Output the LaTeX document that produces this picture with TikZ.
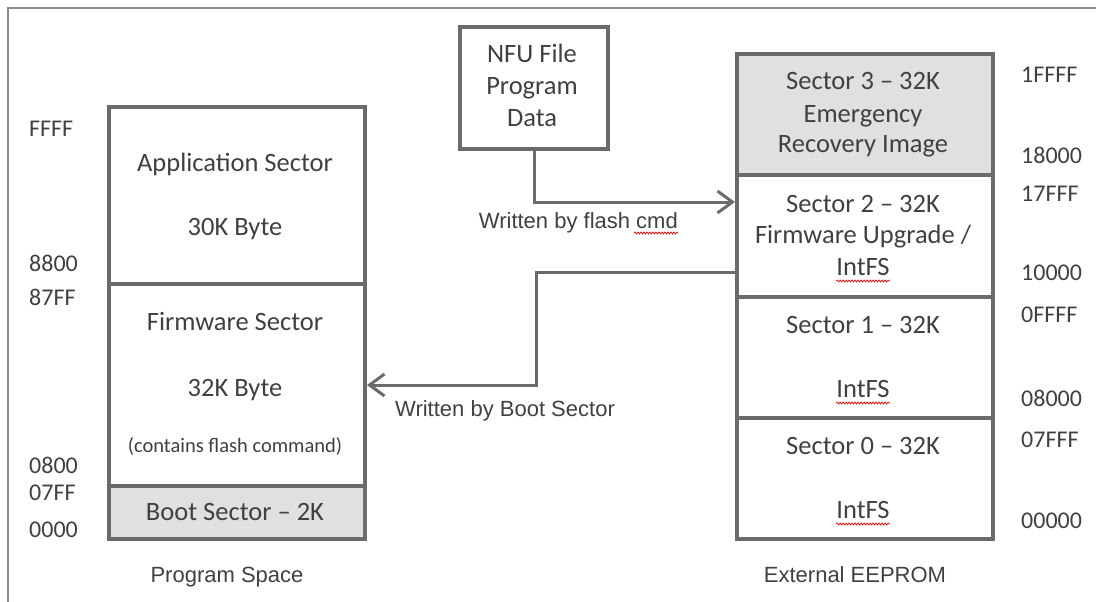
\documentclass[tikz,border=0pt]{standalone}
\usepackage{fontspec}
\newfontfamily\calfont{Carlito}
\newfontfamily\arifont{Liberation Sans}
\usetikzlibrary{arrows.meta,calc,decorations.pathmorphing}
\definecolor{linegray}{HTML}{6B6B6B}
\definecolor{fillgray}{HTML}{E0E0E0}
\definecolor{txtgray}{HTML}{404040}
\definecolor{framegray}{HTML}{8A8A8A}
\tikzset{
  sector/.style={draw=linegray, line width=4pt, inner sep=0pt, anchor=north west},
  btxt/.style={font=\calfont\fontsize{26.5}{30}\selectfont, text=txtgray, inner sep=0pt, anchor=base},
  stxt/.style={font=\calfont\fontsize{20.5}{23}\selectfont, text=txtgray, inner sep=0pt, anchor=base},
  addr/.style={font=\calfont\fontsize{24}{28}\selectfont, text=txtgray, inner sep=0pt, anchor=base west},
  lbl/.style={font=\arifont\fontsize{22}{25}\selectfont, text=txtgray, inner sep=0pt, anchor=base},
  conn/.style={draw=linegray, line width=3pt, -{Straight Barb[length=15pt,width=22pt,line width=3pt]}},
  squig/.style={draw=red, line width=0.7pt, decorate, decoration={snake, amplitude=1pt, segment length=3pt}}
}
\begin{document}
\begin{tikzpicture}[x=1pt,y=-1pt]
\useasboundingbox (0,0) rectangle (1096,602);
% frame
\draw[framegray, line width=1.5pt] (8,602) -- (8,8) -- (1096,8);

% program space
\node[sector, minimum width=256pt, minimum height=177pt] (app) at (107,105) {};
\node[sector, minimum width=256pt, minimum height=202pt] (fw) at (107,282) {};
\node[sector, fill=fillgray, minimum width=256pt, minimum height=53pt] (boot) at (107,484) {};
\node[btxt] (appt1) at (235,171) {Application Sector};
\node[btxt] (appt2) at (235,235) {30K Byte};
\node[btxt] (fwt1) at (235,330) {Firmware Sector};
\node[btxt] (fwt2) at (235,396) {32K Byte};
\node[stxt] (fwt3) at (235,452) {(contains flash command)};
\node[btxt] (boott) at (235,520) {Boot Sector – 2K};

\node[addr] (aFFFF) at (29,136) {FFFF};
\node[addr] (a8800) at (29,271) {8800};
\node[addr] (a87FF) at (29,305) {87FF};
\node[addr] (a0800) at (29,473) {0800};
\node[addr] (a07FF) at (29,500) {07FF};
\node[addr] (a0000) at (29,537) {0000};
\node[lbl] (ps) at (227,582) {Program Space};

% NFU
\node[sector, minimum width=148pt, minimum height=122pt] (nfu) at (458,25) {};
\node[btxt] (nfu1) at (532,63) {NFU File};
\node[btxt] (nfu2) at (532,95) {Program};
\node[btxt] (nfu3) at (532,127) {Data};

% EEPROM
\node[sector, fill=fillgray, minimum width=256pt, minimum height=121pt] (s3) at (735,52) {};
\node[sector, minimum width=256pt, minimum height=122pt] (s2) at (735,173) {};
\node[sector, minimum width=256pt, minimum height=121pt] (s1) at (735,295) {};
\node[sector, minimum width=256pt, minimum height=121pt] (s0) at (735,416) {};
\node[btxt] (s3a) at (863,90) {Sector 3 – 32K};
\node[btxt] (s3b) at (863,122) {Emergency};
\node[btxt] (s3c) at (863,153) {Recovery Image};
\node[btxt] (s2a) at (863,212) {Sector 2 – 32K};
\node[btxt] (s2b) at (863,243) {Firmware Upgrade /};
\node[btxt] (s2c) at (863,275) {IntFS};
\node[btxt] (s1a) at (863,333) {Sector 1 – 32K};
\node[btxt] (s1b) at (863,397) {IntFS};
\node[btxt] (s0a) at (863,454) {Sector 0 – 32K};
\node[btxt] (s0b) at (863,518) {IntFS};
\draw[squig] ($(s2c.base west)+(0,6)$) -- ($(s2c.base east)+(0,6)$);
\draw[squig] ($(s1b.base west)+(0,6)$) -- ($(s1b.base east)+(0,6)$);
\draw[squig] ($(s0b.base west)+(0,6)$) -- ($(s0b.base east)+(0,6)$);

\node[addr] (b1FFFF) at (1021,83) {1FFFF};
\node[addr] (b18000) at (1021,163) {18000};
\node[addr] (b17FFF) at (1021,201) {17FFF};
\node[addr] (b10000) at (1021,280) {10000};
\node[addr] (b0FFFF) at (1021,322) {0FFFF};
\node[addr] (b08000) at (1021,406) {08000};
\node[addr] (b07FFF) at (1021,447) {07FFF};
\node[addr] (b00000) at (1021,528) {00000};
\node[lbl] (ee) at (855,582) {External EEPROM};

% connectors
\coordinate (c1) at ($(s2.north west)+(0,29)$);
\draw[conn] (nfu.south) |- (c1);
\node[lbl, anchor=base east] (w1) at (678,228) {Written by flash cmd};
\draw[squig] ($(w1.base east)+(-44,5)$) -- ($(w1.base east)+(0,5)$);

\coordinate (c2) at ($(s2.south west)+(0,-27)$);
\draw[conn] (c2) -- ++(-199,0) |- (fw.east);
\node[lbl] (w2) at (505,416) {Written by Boot Sector};
\end{tikzpicture}
\end{document}
